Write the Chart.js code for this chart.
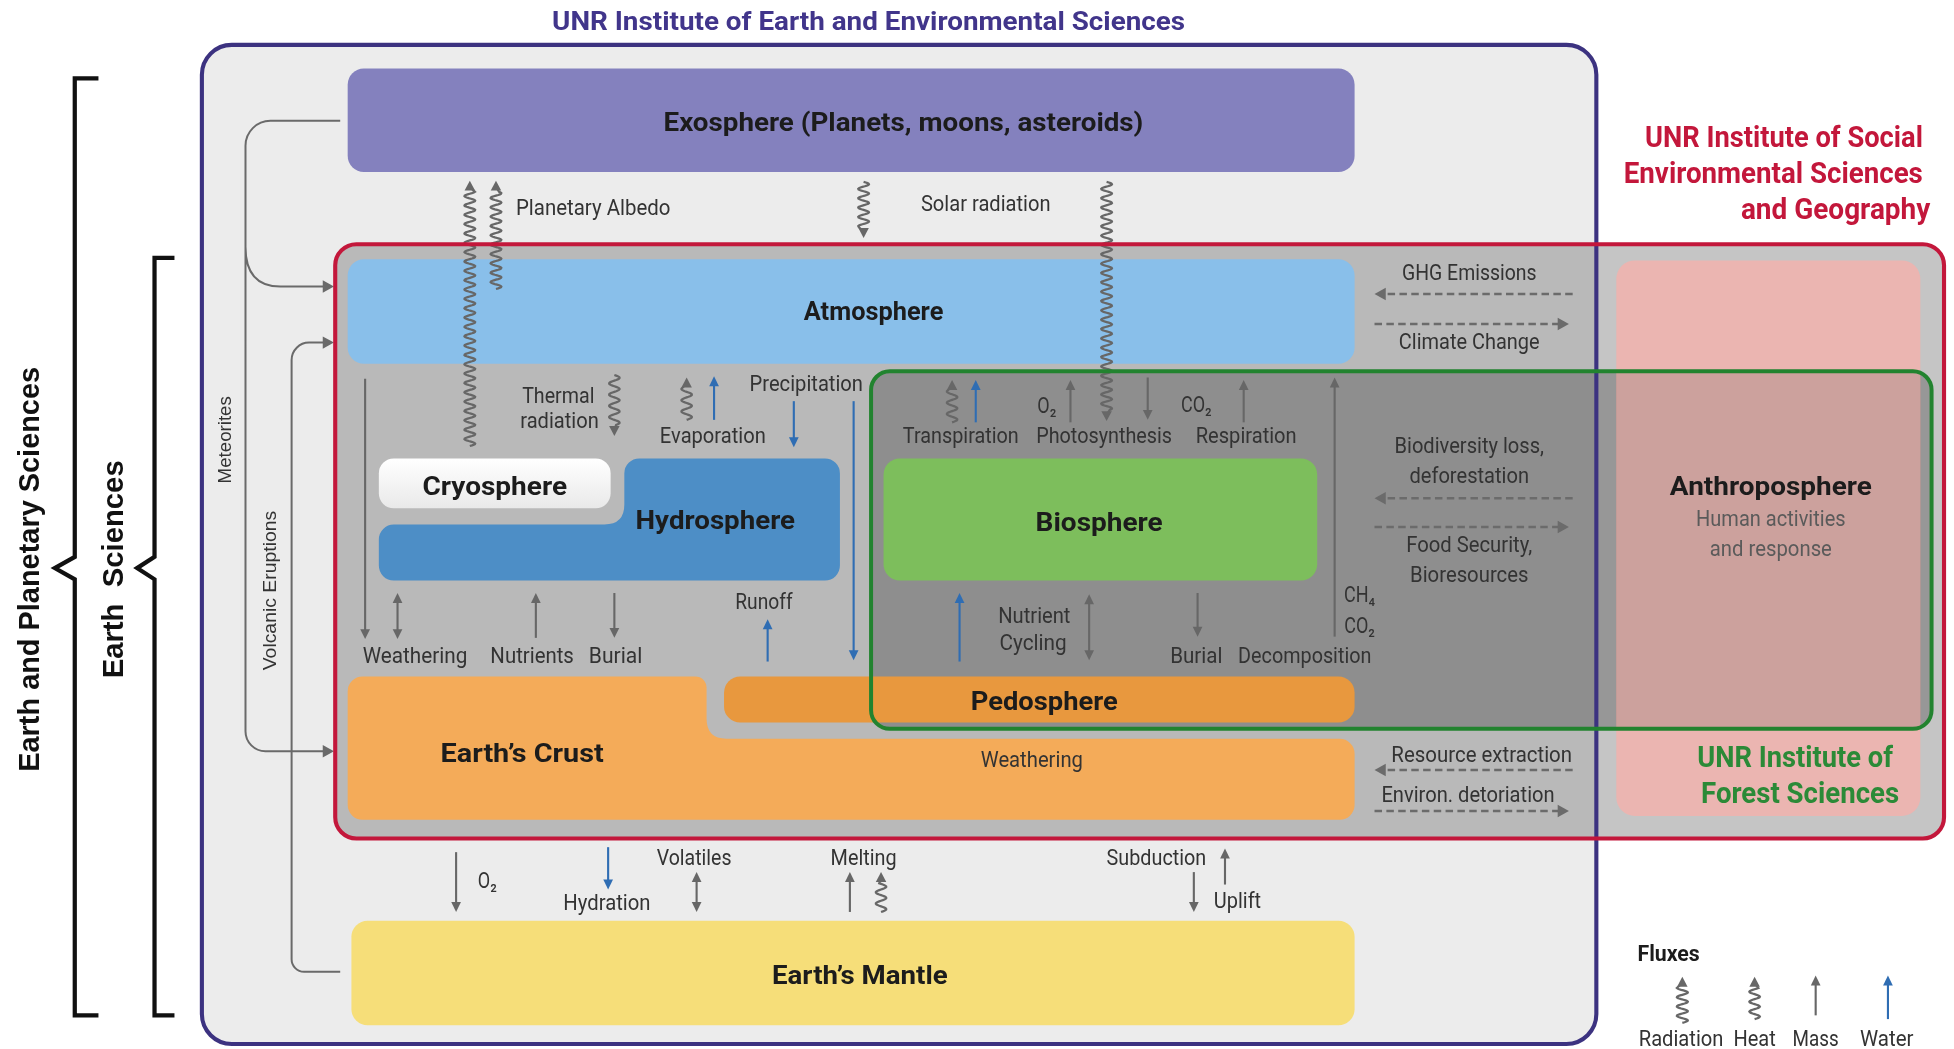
<!DOCTYPE html>
<html lang="en">
<head>
<meta charset="UTF-8">
<meta name="viewport" content="width=device-width, initial-scale=1.0">
<title>Earth system spheres and fluxes</title>
<script src="https://cdn.jsdelivr.net/npm/chart.js"></script>
<style>
  body { margin: 0; background: #ffffff; }
  .frame { position: relative; width: 1954px; height: 1049px; }
</style>
</head>
<body>
<div class="frame"><canvas id="spheres"></canvas></div>
<script>
// everything below is in diagram units: the figure is laid out on a 1568 x 842 grid
const GRID_W = 1568, GRID_H = 842;

const mainTitle = "UNR Institute of Earth and Environmental Sciences";
const socialInstitute = ["UNR Institute of Social", "Environmental Sciences", "and Geography"];
const forestInstitute = ["UNR Institute of", "Forest Sciences"];

// sphere name, centre x, centre y, text width
const sphereLabels = [
  ["Exosphere (Planets, moons, asteroids)", 725, 97, 385],
  ["Atmosphere", 701, 249, 112],
  ["Cryosphere", 397, 389, 116],
  ["Hydrosphere", 574, 417, 128],
  ["Biosphere", 882, 418, 102],
  ["Anthroposphere", 1421, 389, 162],
  ["Pedosphere", 838, 562, 118],
  ["Earth’s Crust", 419, 604, 131],
  ["Earth’s Mantle", 690, 782, 141]
];

// flux / process names, centre x, centre y, text width
const processLabels = [
  ["Planetary Albedo", 476, 166, 124],
  ["Solar radiation", 791, 163, 104],
  ["Thermal", 448, 317, 58],
  ["radiation", 449, 337, 63],
  ["Evaporation", 572, 349, 85],
  ["Precipitation", 647, 307, 91],
  ["Transpiration", 771, 349, 93],
  ["Photosynthesis", 886, 349, 109],
  ["Respiration", 1000, 349, 81],
  ["O₂", 840, 325, 0],
  ["CO₂", 960, 324, 0],
  ["Runoff", 613, 482, 46],
  ["Weathering", 333, 526, 84],
  ["Nutrients", 427, 526, 67],
  ["Burial", 494, 526, 43],
  ["Nutrient", 830, 494, 58],
  ["Cycling", 829, 515, 54],
  ["Burial", 960, 526, 42],
  ["Decomposition", 1047, 526, 107],
  ["CH₄", 1091, 477, 0],
  ["CO₂", 1091, 502, 0],
  ["Weathering", 828, 609, 82],
  ["GHG Emissions", 1179, 218, 108],
  ["Climate Change", 1179, 274, 113],
  ["Biodiversity loss,", 1179, 357, 120],
  ["deforestation", 1179, 381, 96],
  ["Food Security,", 1179, 437, 101],
  ["Bioresources", 1179, 461, 95],
  ["Resource extraction", 1189, 605, 145],
  ["Environ. detoriation", 1178, 637, 139],
  ["O₂", 391, 706, 0],
  ["Hydration", 487, 724, 70],
  ["Volatiles", 557, 688, 60],
  ["Melting", 693, 688, 53],
  ["Subduction", 928, 688, 80],
  ["Uplift", 993, 722, 38]
];

const anthroNotes = ["Human activities", "and response"];

// flux arrows: x, tail y, head y
const radiationFluxes = [[377, 358, 145], [398, 232, 145], [693, 146, 191], [888, 146, 338]];
const heatFluxes = [[493, 301, 350], [551, 337, 303], [764, 339, 305], [707, 732, 700]];
const massFluxes = [
  [293, 304, 513], [430, 512, 476], [493, 476, 512], [859, 339, 305], [921, 303, 337],
  [998, 339, 305], [1071, 511, 303], [961, 476, 511], [366, 684, 732], [682, 732, 700],
  [983, 710, 681], [958, 700, 732]
];
const waterFluxes = [
  [573, 337, 302], [637, 322, 359], [685, 322, 530], [616, 531, 497],
  [783, 339, 305], [770, 531, 476], [488, 680, 714]
];
const twoWayFluxes = [[319, 476, 513], [874, 477, 530], [559, 700, 732]];

// human-system fluxes (dashed): tail x, head x, y
const humanFluxes = [
  [1262, 1103, 236], [1103, 1259, 260], [1262, 1103, 400],
  [1103, 1259, 423], [1262, 1103, 618], [1103, 1259, 651]
];

const fluxTypes = ["Radiation", "Heat", "Mass", "Water"];

// ---- drawing helpers ----
const GREY = "#676767", BLUE = "#2f6db3";

function roundBox(ctx, x0, y0, x1, y1, r) {
  ctx.beginPath();
  ctx.moveTo(x0 + r, y0);
  ctx.arcTo(x1, y0, x1, y1, r);
  ctx.arcTo(x1, y1, x0, y1, r);
  ctx.arcTo(x0, y1, x0, y0, r);
  ctx.arcTo(x0, y0, x1, y0, r);
  ctx.closePath();
}

function label(ctx, s, x, y, o) {
  o = o || {};
  const size = o.size || 17;
  ctx.save();
  ctx.font = (o.bold ? "700 " : "400 ") + size + "px " + (o.family || "Roboto");
  ctx.fillStyle = o.color || "#333333";
  ctx.textBaseline = "middle";
  ctx.textAlign = o.align || "center";
  ctx.translate(x, o.rot ? y : y + size * 0.13);
  if (o.rot) ctx.rotate(o.rot);
  const w = ctx.measureText(s).width;
  ctx.scale(o.width ? o.width / w : (o.squeeze || 1), 1);
  ctx.fillText(s, 0, 0);
  ctx.restore();
}

function head(ctx, x, y, dx, dy, len, hw, color) {
  ctx.beginPath();
  ctx.moveTo(x, y);
  ctx.lineTo(x - dx * len - dy * hw, y - dy * len + dx * hw);
  ctx.lineTo(x - dx * len + dy * hw, y - dy * len - dx * hw);
  ctx.closePath();
  ctx.fillStyle = color;
  ctx.fill();
}

function straightFlux(ctx, x, y0, y1, color, both) {
  const d = Math.sign(y1 - y0);
  ctx.strokeStyle = color;
  ctx.lineWidth = 1.7;
  ctx.beginPath();
  ctx.moveTo(x, both ? y0 + d * 5 : y0);
  ctx.lineTo(x, y1 - d * 5);
  ctx.stroke();
  head(ctx, x, y1, 0, d, 8, 3.9, color);
  if (both) head(ctx, x, y0, 0, -d, 8, 3.9, color);
}

function wavyFlux(ctx, x, y0, y1, amp, period) {
  const d = Math.sign(y1 - y0);
  const len = Math.abs(y1 - y0) - 9;
  ctx.strokeStyle = GREY;
  ctx.lineWidth = 1.8;
  ctx.beginPath();
  for (let t = 0; t <= len; t += 0.5) {
    const px = x + amp * Math.sin(2 * Math.PI * t / period);
    const py = y0 + d * t;
    if (t === 0) ctx.moveTo(px, py); else ctx.lineTo(px, py);
  }
  ctx.lineTo(x, y1 - d * 5);
  ctx.stroke();
  head(ctx, x, y1, 0, d, 8, 4.2, GREY);
}

function dashedFlux(ctx, x0, x1, y) {
  const d = Math.sign(x1 - x0);
  ctx.save();
  ctx.strokeStyle = "#6b6b6b";
  ctx.lineWidth = 2;
  ctx.setLineDash([6, 3.5]);
  ctx.beginPath();
  ctx.moveTo(x0, y);
  ctx.lineTo(x1 - d * 6, y);
  ctx.stroke();
  ctx.restore();
  head(ctx, x1, y, d, 0, 9, 5, "#6b6b6b");
}

function drawDiagram(ctx) {
  ctx.fillStyle = "#ffffff";
  ctx.fillRect(0, 0, GRID_W, GRID_H);

  // Earth & Environmental Sciences frame
  roundBox(ctx, 162, 36, 1281, 838, 24);
  ctx.fillStyle = "#ececec";
  ctx.fill();

  // Social sciences frame fill (semi transparent grey)
  roundBox(ctx, 269, 196, 1560, 673, 17);
  ctx.fillStyle = "rgba(98,98,98,0.37)";
  ctx.fill();

  // anthroposphere
  roundBox(ctx, 1297, 209, 1541, 655, 15);
  ctx.fillStyle = "#ebb5b1";
  ctx.fill();

  // forest sciences frame: darkened region
  roundBox(ctx, 699, 298, 1550, 585, 15);
  ctx.fillStyle = "rgba(0,0,0,0.23)";
  ctx.fill();
  ctx.save();
  roundBox(ctx, 699, 298, 1550, 585, 15);
  ctx.clip();
  roundBox(ctx, 1297, 209, 1541, 655, 15);
  ctx.fillStyle = "#cca19d";
  ctx.fill();
  ctx.restore();

  // spheres
  roundBox(ctx, 279, 55, 1087, 138, 13);
  ctx.fillStyle = "#8481be"; ctx.fill();
  roundBox(ctx, 279, 208, 1087, 292, 13);
  ctx.fillStyle = "#89bfea"; ctx.fill();
  roundBox(ctx, 709, 368, 1057, 466, 13);
  ctx.fillStyle = "#7dbe5c"; ctx.fill();
  roundBox(ctx, 282, 739, 1087, 823, 13);
  ctx.fillStyle = "#f6de79"; ctx.fill();

  // cryosphere
  const g = ctx.createLinearGradient(0, 368, 0, 408);
  g.addColorStop(0, "#ffffff");
  g.addColorStop(1, "#e9e9e9");
  roundBox(ctx, 304, 368, 490, 408, 12);
  ctx.fillStyle = g; ctx.fill();

  // hydrosphere (stepped shape)
  const r = 12, c = 16;
  ctx.beginPath();
  ctx.moveTo(501 + r, 368);
  ctx.arcTo(674, 368, 674, 466, r);
  ctx.arcTo(674, 466, 304, 466, r);
  ctx.arcTo(304, 466, 304, 421, r);
  ctx.arcTo(304, 421, 480, 421, r);
  ctx.lineTo(501 - c, 421);
  ctx.quadraticCurveTo(501, 421, 501, 421 - c);
  ctx.arcTo(501, 368, 674, 368, r);
  ctx.closePath();
  ctx.fillStyle = "#4d8ec6"; ctx.fill();

  // earth's crust (stepped shape)
  ctx.beginPath();
  ctx.moveTo(279 + r, 543);
  ctx.arcTo(567, 543, 567, 593, 9);
  ctx.lineTo(567, 593 - c);
  ctx.quadraticCurveTo(567, 593, 567 + c, 593);
  ctx.arcTo(1087, 593, 1087, 658, r);
  ctx.arcTo(1087, 658, 279, 658, r);
  ctx.arcTo(279, 658, 279, 543, r);
  ctx.arcTo(279, 543, 567, 543, r);
  ctx.closePath();
  ctx.fillStyle = "#f4ab59"; ctx.fill();

  roundBox(ctx, 581, 543, 1087, 580, 13);
  ctx.fillStyle = "#e8983e"; ctx.fill();

  // meteorites and volcanic connectors
  ctx.strokeStyle = "#6a6a6a";
  ctx.lineWidth = 1.6;
  ctx.beginPath();
  ctx.moveTo(273, 97);
  ctx.arcTo(197, 97, 197, 603, 20);
  ctx.arcTo(197, 603, 268, 603, 16);
  ctx.lineTo(261, 603);
  ctx.moveTo(197, 198);
  ctx.quadraticCurveTo(197, 230, 225, 230);
  ctx.lineTo(261, 230);
  ctx.moveTo(273, 780);
  ctx.arcTo(234, 780, 234, 275, 10);
  ctx.arcTo(234, 275, 268, 275, 14);
  ctx.lineTo(261, 275);
  ctx.stroke();
  head(ctx, 268, 603, 1, 0, 9, 5, "#6a6a6a");
  head(ctx, 268, 230, 1, 0, 9, 5, "#6a6a6a");
  head(ctx, 268, 275, 1, 0, 9, 5, "#6a6a6a");

  label(ctx, "Meteorites", 181, 353, { family: "Liberation Sans", size: 15, width: 70, rot: -Math.PI / 2 });
  label(ctx, "Volcanic Eruptions", 217, 474, { family: "Liberation Sans", size: 15, width: 128, rot: -Math.PI / 2 });

  // fluxes
  radiationFluxes.forEach(f => wavyFlux(ctx, f[0], f[1], f[2], 4.3, 7.5));
  heatFluxes.forEach(f => wavyFlux(ctx, f[0], f[1], f[2], 4.2, 9));
  massFluxes.forEach(f => straightFlux(ctx, f[0], f[1], f[2], GREY, false));
  waterFluxes.forEach(f => straightFlux(ctx, f[0], f[1], f[2], BLUE, false));
  twoWayFluxes.forEach(f => straightFlux(ctx, f[0], f[1], f[2], GREY, true));
  humanFluxes.forEach(f => dashedFlux(ctx, f[0], f[1], f[2]));

  // frames
  roundBox(ctx, 162, 36, 1281, 838, 24);
  ctx.strokeStyle = "#3c3280"; ctx.lineWidth = 3.3; ctx.stroke();
  roundBox(ctx, 269, 196, 1560, 673, 17);
  ctx.strokeStyle = "#c3173b"; ctx.lineWidth = 3.3; ctx.stroke();
  roundBox(ctx, 699, 298, 1550, 585, 15);
  ctx.strokeStyle = "#22832f"; ctx.lineWidth = 3.2; ctx.stroke();

  // discipline brackets
  ctx.strokeStyle = "#111111";
  ctx.lineWidth = 3.4;
  ctx.lineJoin = "miter";
  ctx.beginPath();
  ctx.moveTo(79, 63); ctx.lineTo(60, 63); ctx.lineTo(60, 447); ctx.lineTo(44, 456);
  ctx.lineTo(60, 465); ctx.lineTo(60, 815); ctx.lineTo(79, 815);
  ctx.moveTo(140, 207); ctx.lineTo(124, 207); ctx.lineTo(124, 447); ctx.lineTo(110, 456);
  ctx.lineTo(124, 465); ctx.lineTo(124, 815); ctx.lineTo(140, 815);
  ctx.stroke();
  label(ctx, "Earth and Planetary Sciences", 25, 457, { family: "Liberation Sans", bold: true, size: 24, width: 325, color: "#111", rot: -Math.PI / 2 });
  label(ctx, "Earth  Sciences", 92, 457, { family: "Liberation Sans", bold: true, size: 24, width: 175, color: "#111", rot: -Math.PI / 2 });

  // titles
  label(ctx, mainTitle, 697, 16, { bold: true, size: 21, width: 508, color: "#41358b" });
  const redRight = [1543, 1543, 1549], redW = [223, 240, 152];
  socialInstitute.forEach((s, i) =>
    label(ctx, s, redRight[i], 109 + i * 29, { bold: true, size: 24, width: redW[i], align: "right", color: "#c3173b" }));
  const greenRight = [1519, 1524], greenW = [157, 159];
  forestInstitute.forEach((s, i) =>
    label(ctx, s, greenRight[i], 607 + i * 29, { bold: true, size: 23.5, width: greenW[i], align: "right", color: "#2b8a37" }));

  sphereLabels.forEach(l => label(ctx, l[0], l[1], l[2], { bold: true, size: 21, width: l[3], color: "#1c1c1c" }));
  label(ctx, anthroNotes[0], 1421, 416, { size: 17, width: 120, color: "#5a5a5a" });
  label(ctx, anthroNotes[1], 1421, 440, { size: 17, width: 98, color: "#5a5a5a" });

  processLabels.forEach(l => label(ctx, l[0], l[1], l[2], { size: 17, width: l[3] || 0, squeeze: 0.85, color: "#333333" }));

  // legend
  label(ctx, "Fluxes", 1339, 765, { bold: true, size: 17, width: 50, color: "#1c1c1c" });
  wavyFlux(ctx, 1350, 821, 784, 4.4, 7.5);
  wavyFlux(ctx, 1408, 818, 784, 4.2, 8);
  straightFlux(ctx, 1457, 815, 783, GREY, false);
  straightFlux(ctx, 1515, 818, 783, BLUE, false);
  const legendX = [1349, 1408, 1457, 1514], legendW = [68, 34, 37, 43];
  fluxTypes.forEach((s, i) => label(ctx, s, legendX[i], 833, { size: 17, width: legendW[i], color: "#333333" }));
}

const spheresPlugin = {
  id: "spheres",
  beforeDatasetsDraw(chart) {
    const sx = chart.scales.x, sy = chart.scales.y;
    const ox = sx.getPixelForValue(0), oy = sy.getPixelForValue(0);
    const kx = sx.getPixelForValue(1) - ox, ky = sy.getPixelForValue(1) - oy;
    const ctx = chart.ctx;
    ctx.save();
    ctx.translate(ox, oy);
    ctx.scale(kx, ky);
    drawDiagram(ctx);
    ctx.restore();
  }
};

new Chart(document.getElementById("spheres"), {
  type: "scatter",
  data: { datasets: [{ data: [], pointRadius: 0 }] },
  options: {
    responsive: true,
    maintainAspectRatio: false,
    animation: false,
    devicePixelRatio: 1,
    layout: { padding: 0 },
    plugins: { legend: { display: false }, tooltip: { enabled: false } },
    scales: {
      x: { type: "linear", min: 0, max: GRID_W, display: false },
      y: { type: "linear", min: 0, max: GRID_H, reverse: true, display: false }
    }
  },
  plugins: [spheresPlugin]
});
</script>
</body>
</html>
